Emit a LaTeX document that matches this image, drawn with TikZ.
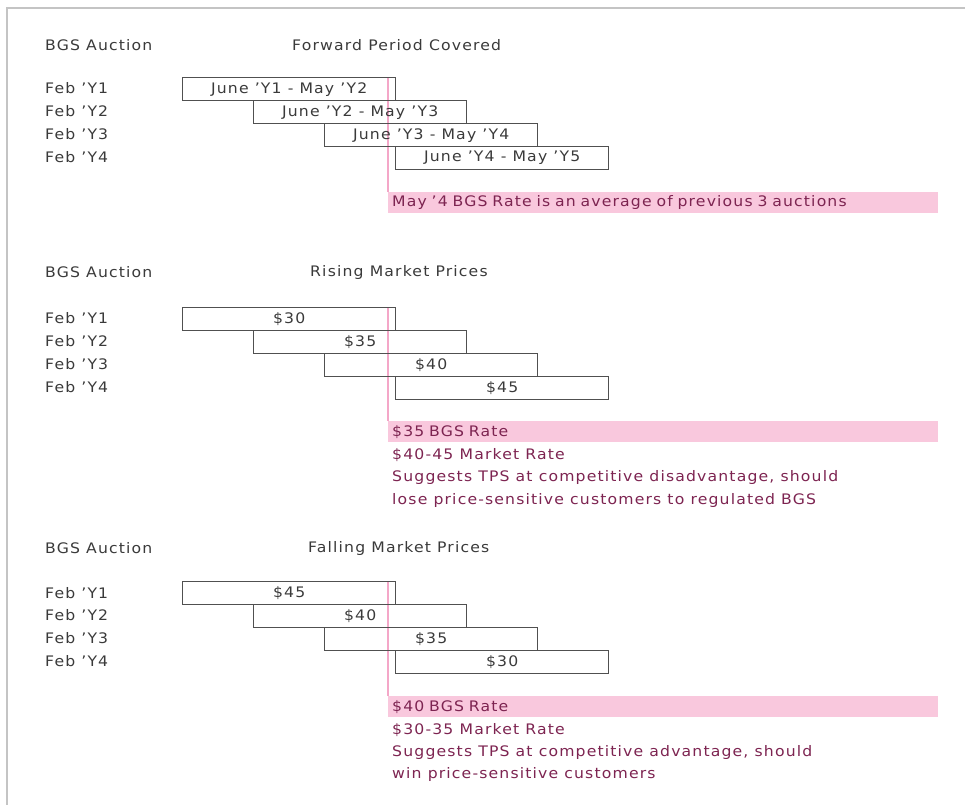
\documentclass[tikz,border=0pt]{standalone}
\usepackage{fontspec}
\setmainfont{DejaVu Sans}[LetterSpace=8, FakeStretch=1.08]
\definecolor{txtgray}{HTML}{3A3A3A}
\definecolor{magtext}{HTML}{7D2451}
\definecolor{bandpink}{HTML}{F9C8DD}
\definecolor{linepink}{HTML}{F4A7C8}
\definecolor{boxgray}{HTML}{505050}
\definecolor{framegray}{HTML}{C4C4C4}
\tikzset{
  lbl/.style={anchor=west, inner sep=0pt, text=txtgray, font=\fontsize{14.5}{16}\selectfont},
  mag/.style={anchor=west, inner sep=0pt, text=magtext, font=\fontsize{14.5}{16}\selectfont},
  pbox/.style={draw=boxgray, line width=1.3pt, anchor=north west, minimum width=213pt, minimum height=23pt, inner sep=0pt, text=txtgray, font=\fontsize{14.5}{16}\selectfont},
  band/.style={fill=bandpink, anchor=north west, minimum height=21pt, text width=542pt, align=left, inner xsep=4pt, inner ysep=0pt, text=magtext, font=\fontsize{14.5}{16}\selectfont},
  pline/.style={draw=linepink, line width=2pt},
  frame/.style={draw=framegray, line width=1.2pt}
}
\begin{document}
\begin{tikzpicture}[x=1pt,y=-1pt]
\useasboundingbox (0,0) rectangle (965,805);
\coordinate (ftl) at (7,8);
\coordinate (ftr) at (965,8);
\coordinate (fbl) at (7,805);
\draw[frame] (ftr) -- (ftl) -- (fbl);

% ---------- Section 1 ----------
\node[lbl] (h1a) at (45,45) {BGS Auction};
\node[lbl] (h1b) at (292,45) {Forward Period Covered};
\node[lbl] (r1a) at (45,88) {Feb 'Y1};
\node[lbl] (r1b) at (45,111) {Feb 'Y2};
\node[lbl] (r1c) at (45,134) {Feb 'Y3};
\node[lbl] (r1d) at (45,157) {Feb 'Y4};
\node[band] (b1) at (388,192) {May '4 BGS Rate is an average of previous 3 auctions};
\draw[pline] (b1.north west) -- (b1.north west |- 0,77);
\node[pbox] (a1) at (182,77) {June 'Y1 - May 'Y2};
\node[pbox] (a2) at (253,100) {June 'Y2 - May 'Y3};
\node[pbox] (a3) at (324,123) {June 'Y3 - May 'Y4};
\node[pbox] (a4) at (395,146) {June 'Y4 - May 'Y5};

% ---------- Section 2 ----------
\node[lbl] (h2a) at (45,272) {BGS Auction};
\node[lbl] (h2b) at (310,272) {Rising Market Prices};
\node[lbl] (r2a) at (45,318) {Feb 'Y1};
\node[lbl] (r2b) at (45,341) {Feb 'Y2};
\node[lbl] (r2c) at (45,364) {Feb 'Y3};
\node[lbl] (r2d) at (45,387) {Feb 'Y4};
\node[band] (b2) at (388,421) {\$35 BGS Rate};
\draw[pline] (b2.north west) -- (b2.north west |- 0,307);
\node[pbox] (c1) at (182,307) {\$30};
\node[pbox] (c2) at (253,330) {\$35};
\node[pbox] (c3) at (324,353) {\$40};
\node[pbox] (c4) at (395,376) {\$45};
\node[mag] (m2a) at (392,455) {\$40-45 Market Rate};
\node[mag] (m2b) at (392,477) {Suggests TPS at competitive disadvantage, should};
\node[mag] (m2c) at (392,500) {lose price-sensitive customers to regulated BGS};

% ---------- Section 3 ----------
\node[lbl] (h3a) at (45,548) {BGS Auction};
\node[lbl] (h3b) at (308,548) {Falling Market Prices};
\node[lbl] (r3a) at (45,593) {Feb 'Y1};
\node[lbl] (r3b) at (45,615) {Feb 'Y2};
\node[lbl] (r3c) at (45,638) {Feb 'Y3};
\node[lbl] (r3d) at (45,661) {Feb 'Y4};
\node[band] (b3) at (388,696) {\$40 BGS Rate};
\draw[pline] (b3.north west) -- (b3.north west |- 0,581);
\node[pbox] (d1) at (182,581) {\$45};
\node[pbox] (d2) at (253,604) {\$40};
\node[pbox] (d3) at (324,627) {\$35};
\node[pbox] (d4) at (395,650) {\$30};
\node[mag] (m3a) at (392,730) {\$30-35 Market Rate};
\node[mag] (m3b) at (392,752) {Suggests TPS at competitive advantage, should};
\node[mag] (m3c) at (392,774) {win price-sensitive customers};
\end{tikzpicture}
\end{document}
